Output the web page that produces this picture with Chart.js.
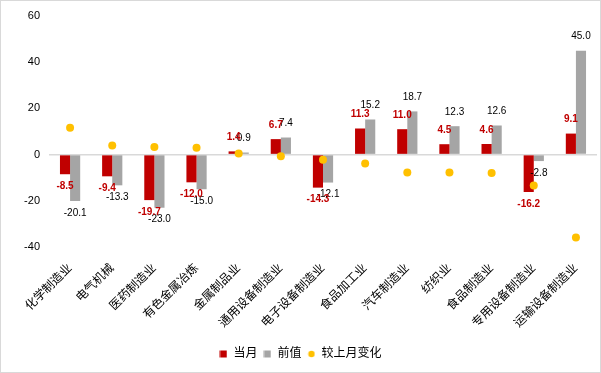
<!DOCTYPE html>
<html>
<head>
<meta charset="utf-8">
<script src="https://cdn.jsdelivr.net/npm/chart.js@4/dist/chart.umd.min.js"></script>
<style>
  html, body { margin: 0; padding: 0; background: #fff; }
  #wrap { width: 601px; height: 373px; }
</style>
</head>
<body>
<div id="wrap"><canvas id="chart" width="601" height="373"></canvas></div>
<script>
// Données
const categories = ['化学制造业', '电气机械', '医药制造业', '有色金属冶炼', '金属制品业', '通用设备制造业',
  '电子设备制造业', '食品加工业', '汽车制造业', '纺织业', '食品制造业', '专用设备制造业', '运输设备制造业'];
const currentValues = [-8.5, -9.4, -19.7, -12.0, 1.4, 6.7, -14.3, 11.3, 11.0, 4.5, 4.6, -16.2, 9.1];
const previousValues = [-20.1, -13.3, -23.0, -15.0, 0.9, 7.4, -12.1, 15.2, 18.7, 12.3, 12.6, -2.8, 45.0];
const changeValues = [11.6, 3.9, 3.3, 3.0, 0.5, -0.7, -2.2, -3.9, -7.7, -7.8, -8.0, -13.4, -35.9];
const yTicks = [-40, -20, 0, 20, 40, 60];

const FONT = "'Liberation Sans', 'Noto Sans CJK SC', sans-serif";
const RED = '#c00000';
const GRAY = '#a5a5a5';
const YELLOW = '#ffc000';

// Petites icônes pour la légende
function makeIcon(color, shape) {
  const c = document.createElement('canvas');
  c.width = 8; c.height = 8;
  const g = c.getContext('2d');
  g.fillStyle = color;
  if (shape === 'circle') {
    g.beginPath(); g.arc(4, 4, 3.2, 0, Math.PI * 2); g.fill();
  } else {
    g.fillRect(0.5, 0.5, 7, 7);
  }
  return c;
}

// Fond blanc et cadre gris
const framePlugin = {
  id: 'frame',
  beforeDraw(chart) {
    const ctx = chart.ctx;
    ctx.save();
    ctx.fillStyle = '#fff';
    ctx.fillRect(0, 0, chart.width, chart.height);
    ctx.strokeStyle = '#d9d9d9';
    ctx.lineWidth = 1;
    ctx.strokeRect(0.5, 0.5, chart.width - 1, chart.height - 1);
    ctx.restore();
  }
};

// Étiquettes de valeurs sur les barres
const valueLabels = {
  id: 'valueLabels',
  afterDatasetsDraw(chart) {
    const ctx = chart.ctx;
    ctx.save();
    ctx.textAlign = 'center';
    ctx.textBaseline = 'middle';
    [1, 0].forEach(i => {
      const meta = chart.getDatasetMeta(i);
      const values = chart.data.datasets[i].data;
      ctx.font = (i === 0 ? 'bold ' : '') + '10px ' + FONT;
      ctx.fillStyle = i === 0 ? RED : '#000';
      meta.data.forEach((bar, j) => {
        const v = values[j];
        const y = v >= 0 ? bar.y - 14 : bar.y + 12;
        ctx.fillText(v.toFixed(1), bar.x, y);
      });
    });
    ctx.restore();
  }
};

const ctx = document.getElementById('chart').getContext('2d');
const chart = new Chart(ctx, {
  data: {
    labels: categories,
    datasets: [
      { type: 'bar', label: '当月', data: currentValues, backgroundColor: RED, order: 1,
        categoryPercentage: 0.48, barPercentage: 1.0 },
      { type: 'bar', label: '前值', data: previousValues, backgroundColor: GRAY, order: 1,
        categoryPercentage: 0.48, barPercentage: 1.0 },
      { type: 'line', label: '较上月变化', data: changeValues, showLine: false, order: 0,
        pointRadius: 4, pointHoverRadius: 4, pointBackgroundColor: YELLOW, pointBorderWidth: 0,
        borderColor: YELLOW, backgroundColor: YELLOW }
    ]
  },
  options: {
    responsive: false,
    animation: false,
    layout: { padding: { left: 0, right: 0, top: 16, bottom: 3 } },
    scales: {
      x: {
        offset: true,
        grid: { display: false },
        border: { display: false },
        ticks: {
          autoSkip: false, maxRotation: 45, minRotation: 45, padding: 6,
          color: '#000', font: { family: FONT, size: 12 }
        },
        afterFit(scale) { scale.height = 95; }
      },
      y: {
        min: -40, max: 60,
        afterBuildTicks(scale) { scale.ticks = yTicks.map(v => ({ value: v })); },
        border: { display: false },
        grid: {
          drawTicks: false,
          color: c => c.tick && c.tick.value === 0 ? '#d9d9d9' : 'rgba(0,0,0,0)',
          lineWidth: 1.5
        },
        ticks: { padding: 9, color: '#000', font: { family: FONT, size: 11 } },
        afterFit(scale) { scale.width = 49; }
      }
    },
    plugins: {
      tooltip: { enabled: false },
      legend: {
        position: 'bottom',
        labels: {
          usePointStyle: true,
          boxWidth: 8, boxHeight: 8,
          padding: 6,
          color: '#000',
          font: { family: FONT, size: 12 },
          generateLabels() {
            return [
              { text: '当月', pointStyle: makeIcon(RED, 'rect'), fillStyle: RED, strokeStyle: RED, lineWidth: 0, datasetIndex: 0 },
              { text: '前值', pointStyle: makeIcon(GRAY, 'rect'), fillStyle: GRAY, strokeStyle: GRAY, lineWidth: 0, datasetIndex: 1 },
              { text: '较上月变化', pointStyle: makeIcon(YELLOW, 'circle'), fillStyle: YELLOW, strokeStyle: YELLOW, lineWidth: 0, datasetIndex: 2 }
            ];
          }
        }
      }
    }
  },
  plugins: [framePlugin, valueLabels]
});
</script>
</body>
</html>
